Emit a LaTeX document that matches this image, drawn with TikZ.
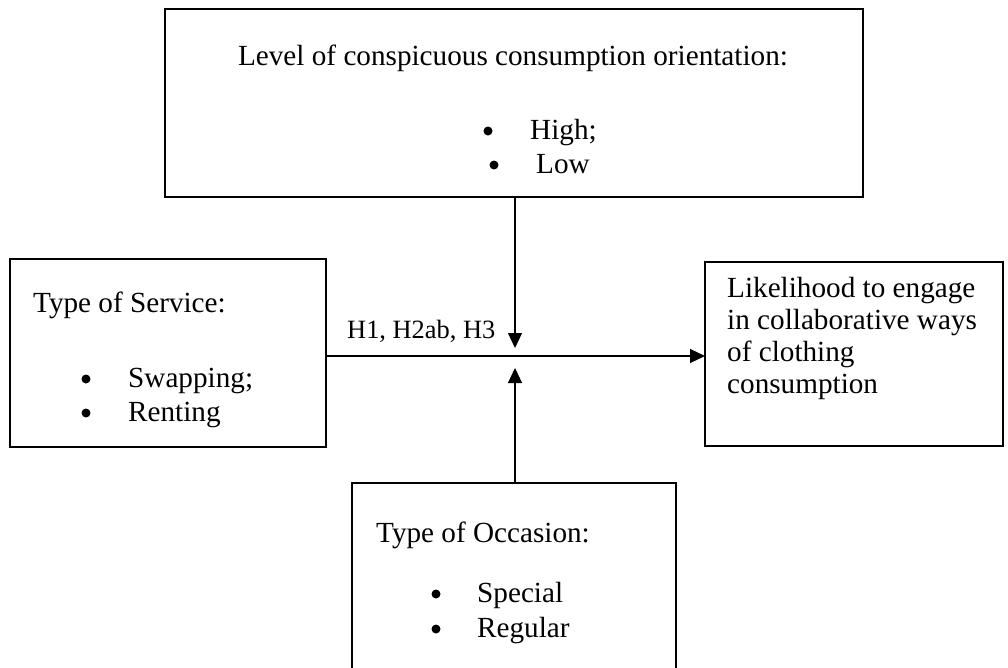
\documentclass[tikz,border=0pt]{standalone}
\usepackage{fontspec}
\setmainfont{Liberation Serif}
\usetikzlibrary{arrows.meta,calc}
\begin{document}
\begin{tikzpicture}[x=1pt,y=-1pt,
  box/.style={draw=black,line width=2.4pt,rectangle,inner sep=0pt,outer sep=0pt},
  txt/.style={anchor=base west,inner sep=0pt,font=\fontsize{29.2}{33}\selectfont},
  bul/.style={circle,fill=black,inner sep=0pt,minimum size=9pt},
  conn/.style={line width=1.2pt,-{Triangle[length=15pt,width=14pt]}},
  lab/.style={anchor=base west,inner sep=0pt,font=\fontsize{26.4}{30}\selectfont}]
\useasboundingbox (0,0) rectangle (1008,667);
\clip (0,0) rectangle (1008,667);
\fill[white] (0,0) rectangle (1008,667);

% boxes
\node[box,minimum width=698pt,minimum height=188pt] (lvl) at (514,103) {};
\node[box,minimum width=316pt,minimum height=188pt] (svc) at (168,353) {};
\node[box,minimum width=298pt,minimum height=184pt] (out) at (854,354) {};
\node[box,minimum width=324pt,minimum height=217pt] (occ) at (514,591.5) {};

% top box text
\node[txt,anchor=base] (lvlh) at (513,65) {Level of conspicuous consumption orientation:};
\node[bul] (lvlb1) at (488,131) {};
\node[txt] (lvlt1) at (530,139) {High;};
\node[bul] (lvlb2) at (494,165) {};
\node[txt] (lvlt2) at (536,173) {Low};

% left box text
\node[txt] (svch) at (33,312) {Type of Service:};
\node[bul] (svcb1) at (86,379) {};
\node[txt] (svct1) at (128,387) {Swapping;};
\node[bul] (svcb2) at (86,413) {};
\node[txt] (svct2) at (128,421) {Renting};

% right box text
\node[txt] (out1) at (727,297) {Likelihood to engage};
\node[txt] (out2) at (727,329) {in collaborative ways};
\node[txt] (out3) at (727,361) {of clothing};
\node[txt] (out4) at (727,393) {consumption};

% bottom box text
\node[txt] (occh) at (376,542) {Type of Occasion:};
\node[bul] (occb1) at (436,594) {};
\node[txt] (occt1) at (477,602) {Special};
\node[bul] (occb2) at (436,629) {};
\node[txt] (occt2) at (477,637) {Regular};

% connectors
\coordinate (hub) at (515,356);
\draw[conn] (svc.east |- hub) -- (out.west |- hub);
\draw[conn] (lvl.south -| hub) -- ($(hub)+(0,-8)$);
\draw[conn] (occ.north -| hub) -- ($(hub)+(0,12)$);
\node[lab] (hlab) at (347,338) {H1, H2ab, H3};
\end{tikzpicture}
\end{document}
